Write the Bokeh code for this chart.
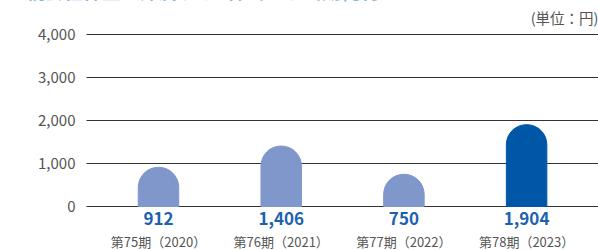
from bokeh.plotting import figure
from bokeh.models import ColumnDataSource, Range1d
from bokeh.core.properties import value
from bokeh.embed import file_html
from bokeh.resources import INLINE

categories = ["第75期（2020）", "第76期（2021）", "第77期（2022）", "第78期（2023）"]
values = [912, 1406, 750, 1904]
value_labels = ["912", "1,406", "750", "1,904"]
bar_colors = ["#8097CC", "#8097CC", "#8097CC", "#0057A8"]
y_ticks = [0, 1000, 2000, 3000, 4000]
y_tick_labels = ["0", "1,000", "2,000", "3,000", "4,000"]
unit_label = "(単位：円)"
title_text = "親会社株主に帰属する1株当たり当期純利益"

FONT = "Noto Sans CJK JP"
PX = 122.7                      # pixels per category step
X0 = -158 / PX
X1 = X0 + 598 / PX
GRID_X0 = X0 + 86 / PX          # where grid lines start
TICK_X = X0 + 75 / PX           # right edge of y tick labels
TITLE_X = X0 + 25 / PX

xs = list(range(len(categories)))
src = ColumnDataSource(dict(x=xs, top=values, color=bar_colors, cat=categories, vl=value_labels))
tick_src = ColumnDataSource(dict(y=y_ticks, lbl=y_tick_labels))

p = figure(width=598, height=250, output_backend="svg", toolbar_location=None,
           x_range=Range1d(X0, X1), y_range=Range1d(-1023, 4791),
           x_axis_location=None, y_axis_location=None,
           min_border_left=0, min_border_right=0, min_border_top=0, min_border_bottom=0)
p.outline_line_color = None
p.background_fill_color = "white"
p.border_fill_color = "white"
p.xgrid.grid_line_color = None
p.ygrid.grid_line_color = None

# grid lines at y ticks
p.segment(x0=GRID_X0, x1=X1, y0="y", y1="y", source=tick_src, line_color="#333333", line_width=1)
# y tick labels
p.text(x=TICK_X, y="y", text="lbl", source=tick_src, text_align="right", text_baseline="middle",
       text_font=value(FONT), text_font_size="15px", text_color="#555555")

p.vbar(x="x", top="top", bottom=0, width=0.33, color="color", source=src,
       border_radius=(20, 20, 0, 0))

p.text(x="x", y=-279, text="vl", source=src, text_align="center", text_baseline="middle",
       text_font=value(FONT), text_font_size="17px", text_font_style="bold", text_color="#1D62AC")
p.text(x="x", y=-814, text="cat", source=src, text_align="center", text_baseline="middle",
       text_font=value(FONT), text_font_size="13px", text_color="#555555")

p.text(x=[X1], y=[4395], text=[unit_label], text_align="right", text_baseline="middle",
       text_font=value(FONT), text_font_size="14.5px", text_color="#555555")

p.text(x=[TITLE_X], y=[4700], text=[title_text], text_align="left", text_baseline="bottom",
       text_font=value(FONT), text_font_size="19px", text_font_style="bold", text_color="#1D6FBF")

open("out.html", "w").write(file_html(p, INLINE))
